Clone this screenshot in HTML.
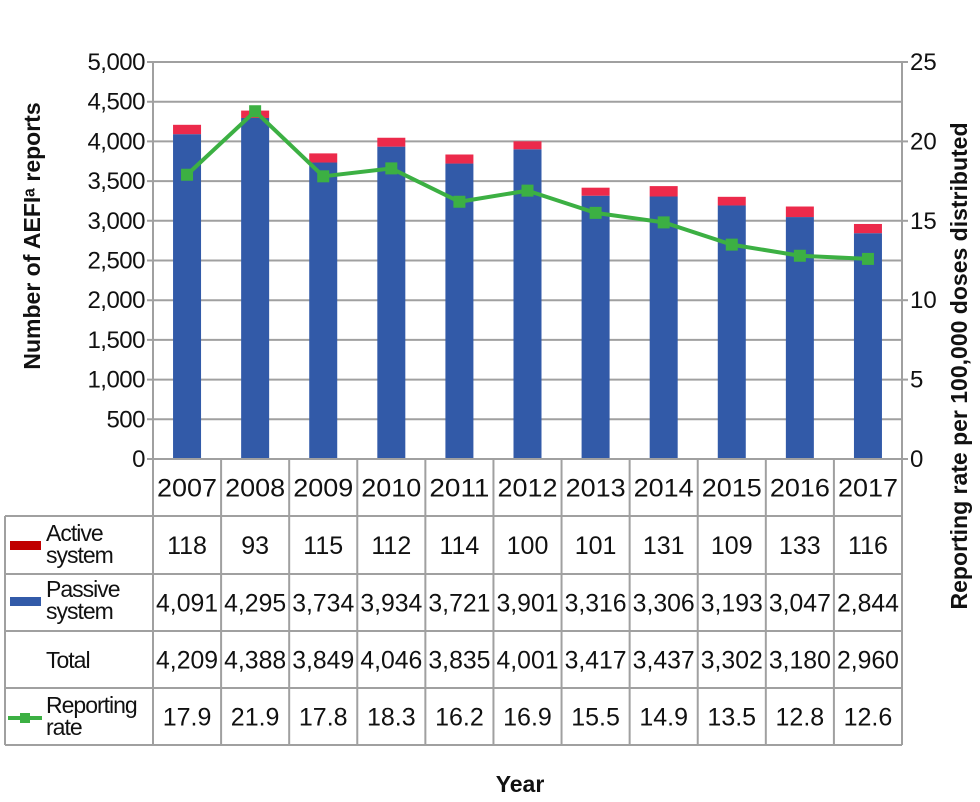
<!DOCTYPE html>
<html><head><meta charset="utf-8"><style>
body{margin:0;background:#fff;}
svg{display:block;font-family:"Liberation Sans",sans-serif;}
</style></head><body>
<svg id="c" width="980" height="802" viewBox="0 0 980 802"></svg>
<script>
const years=["2007","2008","2009","2010","2011","2012","2013","2014","2015","2016","2017"];
const active=[118,93,115,112,114,100,101,131,109,133,116];
const passive=[4091,4295,3734,3934,3721,3901,3316,3306,3193,3047,2844];
const total=[4209,4388,3849,4046,3835,4001,3417,3437,3302,3180,2960];
const rate=[17.9,21.9,17.8,18.3,16.2,16.9,15.5,14.9,13.5,12.8,12.6];
const leftTicks=[0,500,1000,1500,2000,2500,3000,3500,4000,4500,5000];
const rightTicks=[0,5,10,15,20,25];

const NS="http://www.w3.org/2000/svg";
const svg=document.getElementById('c');
const X0=153,X1=902,Y0=459,Y1=62;
const cw=(X1-X0)/years.length;
const yL=v=>Y0-(v/5000)*(Y0-Y1);
const yR=v=>Y0-(v/25)*(Y0-Y1);
const xc=i=>X0+cw*(i+0.5);
function mk(t,a,txt){const e=document.createElementNS(NS,t);for(const k in a)e.setAttribute(k,a[k]);if(txt!==undefined)e.textContent=txt;svg.appendChild(e);return e;}
const G="#a0a0a0";
leftTicks.forEach(v=>{
  const l=mk('line',{x1:X0-6,x2:X1,y1:yL(v),y2:yL(v),stroke:G,'stroke-width':2});
  
  const t=mk('text',{x:X0-8,y:yL(v)+8,'text-anchor':'end','font-size':24,'letter-spacing':-0.5,fill:'#111'},v.toLocaleString('en-US'));
  
});
rightTicks.forEach(v=>{
  mk('line',{x1:X1,x2:X1+6,y1:yR(v),y2:yR(v),stroke:G,'stroke-width':2});
  const t=mk('text',{x:X1+8,y:yR(v)+8,'font-size':24,fill:'#111'},String(v));
  
});
mk('line',{x1:X0,x2:X0,y1:Y1,y2:Y0,stroke:G,'stroke-width':2});
mk('line',{x1:X1,x2:X1,y1:Y1,y2:Y0,stroke:G,'stroke-width':2});
const bw=28;
years.forEach((y,i)=>{
  const b=mk('rect',{x:xc(i)-bw/2,y:yL(passive[i]),width:bw,height:Y0-yL(passive[i]),fill:'#325aa8'});
  
  const a=mk('rect',{x:xc(i)-bw/2,y:yL(passive[i]+active[i]),width:bw,height:yL(passive[i])-yL(passive[i]+active[i]),fill:'#ec2a4b'});
  
});
const pl=mk('polyline',{points:rate.map((r,i)=>xc(i)+','+yR(r)).join(' '),fill:'none',stroke:'#3cb043','stroke-width':4});

rate.forEach((r,i)=>{
  const m=mk('rect',{x:xc(i)-6,y:yR(r)-6,width:12,height:12,fill:'#3cb043'});
  
});
const rows=[459,516,574,631,688,745];
for(let i=0;i<=years.length;i++){const x=X0+cw*i;mk('line',{x1:x,x2:x,y1:Y0,y2:745,stroke:G,'stroke-width':2});}
mk('line',{x1:5,x2:5,y1:516,y2:745,stroke:G,'stroke-width':2});
rows.forEach((y,k)=>{mk('line',{x1:k==0?X0:5,x2:X1,y1:y,y2:y,stroke:G,'stroke-width':2});});
const data=[years,active,passive.map(v=>v.toLocaleString('en-US')),total.map(v=>v.toLocaleString('en-US')),rate.map(v=>v.toFixed(1))];
data.forEach((row,k)=>{
  const cy=(rows[k]+rows[k+1])/2+9;
  row.forEach((v,i)=>{
    const t=mk('text',{x:xc(i),y:cy,'text-anchor':'middle','font-size':25,fill:'#111'},v);
    if(k==2||k==3||k==0){t.setAttribute('textLength',k==0?60:62);t.setAttribute('lengthAdjust','spacingAndGlyphs');}
    
  });
});
function lab(lines,y,name){lines.forEach((s,j)=>{const t=mk('text',{x:46,y:y+j*22,'font-size':23,fill:'#111','letter-spacing':-1},s);});}
mk('rect',{x:10,y:541,width:31,height:9,fill:'#c00000'});
lab(["Active","system"],541,'row-label-active');
mk('rect',{x:10,y:597,width:31,height:9,fill:'#325aa8'});
lab(["Passive","system"],597,'row-label-passive');
lab(["Total"],668,'row-label-total');
mk('line',{x1:8,x2:42,y1:718,y2:718,stroke:'#3cb043','stroke-width':4});
mk('rect',{x:20,y:713,width:10,height:10,fill:'#3cb043'});
lab(["Reporting","rate"],713,'row-label-rate');
const yt=mk('text',{x:0,y:0,'font-size':23,'font-weight':'bold',fill:'#111','text-anchor':'middle',transform:'translate(40,236) rotate(-90)'},'Number of AEFIᵃ reports');

const rt=mk('text',{x:0,y:0,'font-size':23,'font-weight':'bold',fill:'#111','text-anchor':'middle',transform:'translate(967,366) rotate(-90)'},'Reporting rate per 100,000 doses distributed');

const xt=mk('text',{x:520,y:792,'font-size':23,'font-weight':'bold',fill:'#111','text-anchor':'middle'},'Year');

</script>
</body></html>
